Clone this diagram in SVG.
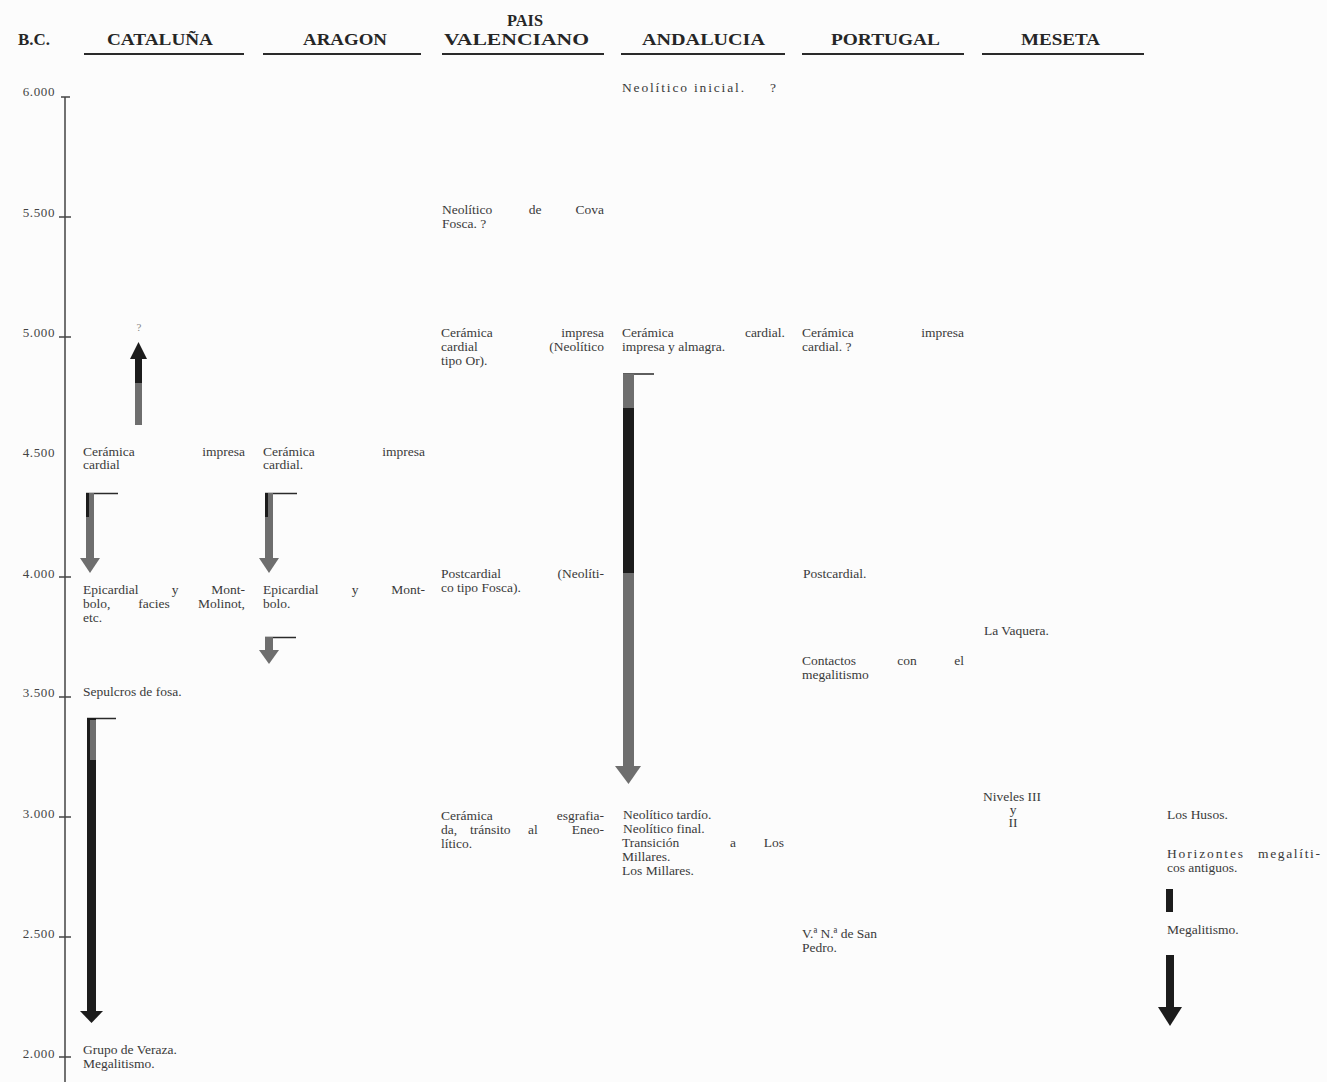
<svg xmlns="http://www.w3.org/2000/svg" width="1327" height="1082" viewBox="0 0 1327 1082">
<style>
text{font-family:"Liberation Serif","Times New Roman",serif;font-size:13.5px;fill:#3a3a3a}
.h{font-weight:bold;font-size:17px;fill:#262626}
.e{text-anchor:end}
.m{text-anchor:middle}
.ax{font-size:13px;letter-spacing:0.6px;text-anchor:end;fill:#444}
.q{font-size:11px;fill:#888}
.hl{stroke:#2a2a2a;stroke-width:1.8}
.axis{stroke:#444;stroke-width:1.5;fill:none}
.g{fill:#6e6e6e}
.k{fill:#1c1c1c}
.bar{stroke:#2a2a2a;stroke-width:1.5}
</style>
<rect width="1327" height="1082" fill="#fcfcfc"/>

<g id="header">
  <text class="h" x="18" y="45" textLength="32" lengthAdjust="spacingAndGlyphs">B.C.</text>
  <text class="h" x="107" y="45" textLength="106" lengthAdjust="spacingAndGlyphs">CATALUÑA</text>
  <line class="hl" x1="84" y1="54" x2="244" y2="54"/>
  <text class="h" x="303" y="45" textLength="84" lengthAdjust="spacingAndGlyphs">ARAGON</text>
  <line class="hl" x1="263" y1="54" x2="421" y2="54"/>
  <text class="h" x="507" y="26" textLength="36" lengthAdjust="spacingAndGlyphs">PAIS</text>
  <text class="h" x="444" y="45" textLength="145" lengthAdjust="spacingAndGlyphs">VALENCIANO</text>
  <line class="hl" x1="442" y1="54" x2="604" y2="54"/>
  <text class="h" x="642" y="45" textLength="123" lengthAdjust="spacingAndGlyphs">ANDALUCIA</text>
  <line class="hl" x1="621" y1="54" x2="785" y2="54"/>
  <text class="h" x="831" y="45" textLength="109" lengthAdjust="spacingAndGlyphs">PORTUGAL</text>
  <line class="hl" x1="802" y1="54" x2="964" y2="54"/>
  <text class="h" x="1021" y="45" textLength="79" lengthAdjust="spacingAndGlyphs">MESETA</text>
  <line class="hl" x1="982" y1="54" x2="1144" y2="54"/>
</g>

<g id="axis">
  <line class="axis" x1="65" y1="97" x2="65" y2="1082"/>
  <line class="axis" x1="61" y1="97" x2="70" y2="97"/>
  <line class="axis" x1="59" y1="217" x2="71" y2="217"/>
  <line class="axis" x1="59" y1="337" x2="71" y2="337"/>
  <line class="axis" x1="59" y1="577" x2="71" y2="577"/>
  <line class="axis" x1="59" y1="697" x2="71" y2="697"/>
  <line class="axis" x1="59" y1="817" x2="71" y2="817"/>
  <line class="axis" x1="59" y1="937" x2="71" y2="937"/>
  <line class="axis" x1="59" y1="1057" x2="71" y2="1057"/>
  <text class="ax" x="55" y="96">6.000</text>
  <text class="ax" x="55" y="217">5.500</text>
  <text class="ax" x="55" y="337">5.000</text>
  <text class="ax" x="55" y="457">4.500</text>
  <text class="ax" x="55" y="578">4.000</text>
  <text class="ax" x="55" y="697">3.500</text>
  <text class="ax" x="55" y="818">3.000</text>
  <text class="ax" x="55" y="938">2.500</text>
  <text class="ax" x="55" y="1058">2.000</text>
</g>

<g id="cat-q"><text class="q m" x="139" y="331">?</text></g>
<g id="cat-ceramica">
  <text x="83" y="456">Cerámica</text><text class="e" x="245" y="456">impresa</text>
  <text x="83" y="469">cardial</text>
</g>
<g id="cat-epicardial">
  <text x="83" y="594">Epicardial</text><text class="m" x="175" y="594">y</text><text class="e" x="245" y="594">Mont-</text>
  <text x="83" y="608">bolo,</text><text class="m" x="154" y="608">facies</text><text class="e" x="245" y="608">Molinot,</text>
  <text x="83" y="622">etc.</text>
</g>
<g id="cat-sepulcros"><text x="83" y="696">Sepulcros de fosa.</text></g>
<g id="cat-veraza">
  <text x="83" y="1054">Grupo de Veraza.</text>
  <text x="83" y="1068">Megalitismo.</text>
</g>

<g id="ara-ceramica">
  <text x="263" y="456">Cerámica</text><text class="e" x="425" y="456">impresa</text>
  <text x="263" y="469">cardial.</text>
</g>
<g id="ara-epicardial">
  <text x="263" y="594">Epicardial</text><text class="m" x="355" y="594">y</text><text class="e" x="425" y="594">Mont-</text>
  <text x="263" y="608">bolo.</text>
</g>

<g id="pv-cova">
  <text x="442" y="214">Neolítico</text><text class="m" x="535" y="214">de</text><text class="e" x="604" y="214">Cova</text>
  <text x="442" y="228">Fosca. ?</text>
</g>
<g id="pv-ceramica">
  <text x="441" y="337">Cerámica</text><text class="e" x="604" y="337">impresa</text>
  <text x="441" y="351">cardial</text><text class="e" x="604" y="351">(Neolítico</text>
  <text x="441" y="365">tipo Or).</text>
</g>
<g id="pv-postcardial">
  <text x="441" y="578">Postcardial</text><text class="e" x="604" y="578">(Neolíti-</text>
  <text x="441" y="592">co tipo Fosca).</text>
</g>
<g id="pv-esgrafiada">
  <text x="441" y="820">Cerámica</text><text class="e" x="604" y="820">esgrafia-</text>
  <text x="441" y="834">da,</text><text x="470" y="834">tránsito</text><text x="528" y="834">al</text><text class="e" x="604" y="834">Eneo-</text>
  <text x="441" y="848">lítico.</text>
</g>

<g id="and-inicial">
  <text x="622" y="92" textLength="122" lengthAdjust="spacing">Neolítico inicial.</text>
  <text x="770" y="92">?</text>
</g>
<g id="and-ceramica">
  <text x="622" y="337">Cerámica</text><text class="e" x="785" y="337">cardial.</text>
  <text x="622" y="351">impresa y almagra.</text>
</g>
<g id="and-tardio">
  <text x="623" y="819">Neolítico tardío.</text>
  <text x="623" y="833">Neolítico final.</text>
  <text x="622" y="847">Transición</text><text class="m" x="733" y="847">a</text><text class="e" x="784" y="847">Los</text>
  <text x="622" y="861">Millares.</text>
  <text x="622" y="875">Los Millares.</text>
</g>

<g id="por-ceramica">
  <text x="802" y="337">Cerámica</text><text class="e" x="964" y="337">impresa</text>
  <text x="802" y="351">cardial. ?</text>
</g>
<g id="por-postcardial"><text x="803" y="578">Postcardial.</text></g>
<g id="por-contactos">
  <text x="802" y="665">Contactos</text><text class="m" x="907" y="665">con</text><text class="e" x="964" y="665">el</text>
  <text x="802" y="679">megalitismo</text>
</g>
<g id="por-sanpedro">
  <text x="802" y="938">V.ª N.ª de San</text>
  <text x="802" y="952">Pedro.</text>
</g>

<g id="mes-vaquera"><text x="984" y="635">La Vaquera.</text></g>
<g id="mes-niveles">
  <text x="983" y="801">Niveles III</text>
  <text class="m" x="1013" y="814">y</text>
  <text class="m" x="1013" y="827">II</text>
</g>

<g id="r-husos"><text x="1167" y="819">Los Husos.</text></g>
<g id="r-horizontes">
  <text x="1167" y="858" textLength="76" lengthAdjust="spacing">Horizontes</text><text class="e" x="1320" y="858" textLength="62" lengthAdjust="spacing">megalíti-</text>
  <text x="1167" y="872">cos antiguos.</text>
</g>
<g id="r-megalitismo"><text x="1167" y="934">Megalitismo.</text></g>

<g id="connectors">
  <rect class="g" x="135" y="357" width="7" height="68"/>
  <rect class="k" x="135" y="357" width="7" height="26"/>
  <polygon class="k" points="130,359 147,359 138.5,342"/>
  <line class="bar" x1="86" y1="493.5" x2="118" y2="493.5"/>
  <rect class="g" x="86" y="493" width="8" height="66"/>
  <rect class="k" x="86" y="493" width="3" height="24"/>
  <polygon class="g" points="80,558 100,558 90,573"/>
  <line class="bar" x1="265" y1="493.5" x2="297" y2="493.5"/>
  <rect class="g" x="265" y="493" width="8" height="66"/>
  <rect class="k" x="265" y="493" width="3" height="24"/>
  <polygon class="g" points="259,558 279,558 269,573"/>
  <line class="bar" x1="265" y1="637.5" x2="296" y2="637.5"/>
  <rect class="g" x="265" y="637" width="8" height="14"/>
  <polygon class="g" points="259,650 279,650 269,664"/>
  <line class="bar" x1="87" y1="718.5" x2="116" y2="718.5"/>
  <rect class="k" x="87" y="718" width="9" height="296"/>
  <rect class="g" x="90" y="720" width="6" height="40"/>
  <polygon class="k" points="80,1011 103,1011 91.5,1023"/>
  <line class="bar" x1="623" y1="374" x2="654" y2="374"/>
  <rect class="g" x="623" y="374" width="11" height="394"/>
  <rect class="k" x="623" y="408" width="11" height="165"/>
  <polygon class="g" points="615,766 641,766 628.5,784"/>
  <rect class="k" x="1166" y="889" width="7" height="23"/>
  <rect class="k" x="1166" y="955" width="8" height="54"/>
  <polygon class="k" points="1158,1007 1182,1007 1170,1026"/>
</g>
</svg>
